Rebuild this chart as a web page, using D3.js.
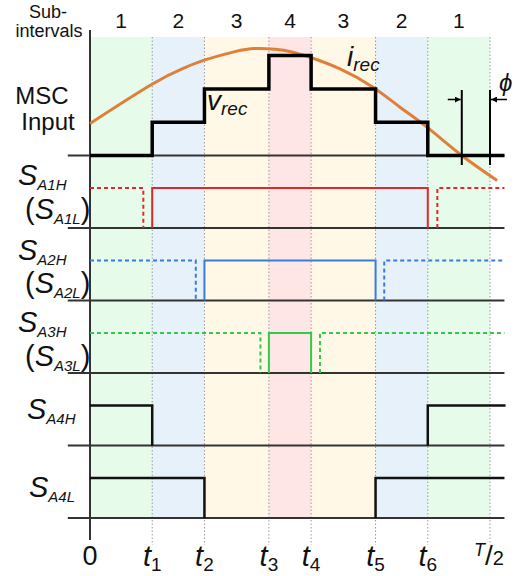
<!DOCTYPE html>
<html>
<head>
<meta charset="utf-8">
<script src="https://cdn.jsdelivr.net/npm/d3@7"></script>
<style>
  body { margin: 0; background: #fff; }
</style>
</head>
<body>
<svg id="chart" width="521" height="576"></svg>
<script>
// switching instants in electrical degrees over half a period
var tickNames = ['0', 't1', 't2', 't3', 't4', 't5', 't6', 'T/2'];
var tickAngles = [0, 28, 51.5, 80.5, 99.5, 128.5, 152, 180];

// sub-intervals between the ticks
var subIntervals = [1, 2, 3, 4, 3, 2, 1];
var intervalColors = ['#e7fbea', '#e6f1fa', '#fff8e7', '#fee6e6', '#fff8e7', '#e6f1fa', '#e7fbea'];

// staircase input voltage level in each sub-interval
var vrecLevels = [0, 1, 2, 3, 2, 1, 0];

// input current (same units as the voltage steps)
var irecAngles = [0, 27.9, 42.75, 51.75, 65.25, 74.25, 83.25, 90.9, 99, 112.5, 127.35, 139.5, 151.65, 167.3, 183.2];
var irecValues = [0.96, 2.14, 2.64, 2.87, 3.12, 3.21, 3.19, 3.11, 2.95, 2.6, 2.05, 1.45, 0.85, 0, -0.75];
var phiAngle = 167.3;

// gate signals: solid = high side switch on, dashed = complementary low side on
var gateRows = ['A1', 'A2', 'A3'];
var gateColors = ['#e0282c', '#3a7dd8', '#33c94a'];
var gateOn = [[28, 152], [51.5, 128.5], [80.5, 99.5]];
var gateLowOff = [[24, 156.3], [47.6, 132.4], [76.7, 103.5]];

// phase leg 4 switches
var s4hOn = [[0, 28], [152, 187]];
var s4lOn = [[0, 51.5], [128.5, 186.5]];

// no serif face resolves in the renderer, the narrower Arial-metric sans is closest
var FONT = '"Liberation Sans", Arimo, Arial, sans-serif';

var svg = d3.select('#chart')
            .style('font-family', FONT)
            .style('fill', '#111');

var x = d3.scaleLinear().domain([0, 180]).range([90, 490]);
var xStart = -10, xEnd = 186.5;

// one row for the input plot, then five gate rows
var rowNames = ['msc', 'A1', 'A2', 'A3', 'A4H', 'A4L'];
var row = d3.scalePoint().domain(rowNames).range([155.5, 518]);
var pulseHeight = 40;

// input plot vertical scale
var yMsc = d3.scaleLinear().domain([0, 1]).range([row('msc'), row('msc') - 33.3]);

var bgTop = 37, bgBottom = row('A4L');

// background sub-interval bands
svg.append('g')
   .selectAll('rect')
   .data(subIntervals)
   .enter()
   .append('rect')
   .attr('x', function(d, i) { return x(tickAngles[i]); })
   .attr('y', bgTop)
   .attr('width', function(d, i) { return x(tickAngles[i + 1]) - x(tickAngles[i]); })
   .attr('height', bgBottom - bgTop)
   .attr('fill', function(d, i) { return intervalColors[i]; });

// sub-interval numbers
svg.append('g')
   .selectAll('text')
   .data(subIntervals)
   .enter()
   .append('text')
   .attr('x', function(d, i) { return (x(tickAngles[i]) + x(tickAngles[i + 1])) / 2; })
   .attr('y', 28)
   .attr('text-anchor', 'middle')
   .style('font-size', '21px')
   .text(function(d) { return d; });

svg.append('text').attr('x', 48).attr('y', 18).attr('text-anchor', 'middle')
   .style('font-size', '18px').text('Sub-');
svg.append('text').attr('x', 49).attr('y', 37).attr('text-anchor', 'middle')
   .style('font-size', '18px').text('intervals');

// dotted time markers
svg.append('g')
   .selectAll('line')
   .data(tickAngles.slice(1))
   .enter()
   .append('line')
   .attr('x1', function(d) { return x(d); })
   .attr('x2', function(d) { return x(d); })
   .attr('y1', bgTop)
   .attr('y2', 545)
   .attr('stroke', '#9a9a9a')
   .attr('stroke-width', 1)
   .attr('stroke-dasharray', '1.5,2');

// row baselines
svg.append('g')
   .selectAll('line')
   .data(rowNames)
   .enter()
   .append('line')
   .attr('x1', x(xStart))
   .attr('x2', x(xEnd))
   .attr('y1', function(d) { return row(d); })
   .attr('y2', function(d) { return row(d); })
   .attr('stroke', '#333')
   .attr('stroke-width', 2);

// time axis
svg.append('line')
   .attr('x1', x(0)).attr('x2', x(0))
   .attr('y1', 30).attr('y2', 540)
   .attr('stroke', '#333')
   .attr('stroke-width', 2);

// input current
var irecLine = d3.line()
   .x(function(d, i) { return x(irecAngles[i]); })
   .y(function(d) { return yMsc(d); })
   .curve(d3.curveNatural);

svg.append('path')
   .datum(irecValues)
   .attr('d', irecLine)
   .attr('fill', 'none')
   .attr('stroke', '#e07f3a')
   .attr('stroke-width', 3);

// staircase voltage
var vrecPts = [];
vrecLevels.forEach(function(v, i) {
  vrecPts.push([tickAngles[i], v]);
  vrecPts.push([i == vrecLevels.length - 1 ? xEnd : tickAngles[i + 1], v]);
});
svg.append('path')
   .datum(vrecPts)
   .attr('d', d3.line()
                .x(function(d) { return x(d[0]); })
                .y(function(d) { return yMsc(d[1]); }))
   .attr('fill', 'none')
   .attr('stroke', '#000')
   .attr('stroke-width', 3.5);

// phase shift marker
var defs = svg.append('defs');
defs.append('marker')
    .attr('id', 'arrow')
    .attr('viewBox', '0 0 10 10')
    .attr('refX', 10).attr('refY', 5)
    .attr('markerWidth', 4).attr('markerHeight', 4)
    .attr('orient', 'auto')
    .append('path')
    .attr('d', 'M0,0L10,5L0,10z')
    .attr('fill', '#000');

[phiAngle, 180].forEach(function(a) {
  svg.append('line')
     .attr('x1', x(a)).attr('x2', x(a))
     .attr('y1', 90).attr('y2', 165)
     .attr('stroke', '#000').attr('stroke-width', 2);
});
svg.append('line')
   .attr('x1', x(phiAngle) - 14).attr('x2', x(phiAngle) - 1)
   .attr('y1', 99.5).attr('y2', 99.5)
   .attr('stroke', '#000').attr('stroke-width', 1.5)
   .attr('marker-end', 'url(#arrow)');
svg.append('line')
   .attr('x1', x(180) + 17).attr('x2', x(180) + 1)
   .attr('y1', 99.5).attr('y2', 99.5)
   .attr('stroke', '#000').attr('stroke-width', 1.5)
   .attr('marker-end', 'url(#arrow)');
svg.append('text')
   .attr('x', 499).attr('y', 91)
   .style('font-size', '24px').style('font-style', 'italic')
   .text('\u03d5');

// subscripted italic labels
function subLabel(px, py, main, sub, size, subSize, parens) {
  var t = svg.append('text').attr('x', px).attr('y', py)
             .style('font-size', size + 'px');
  if (parens) t.append('tspan').text('(');
  t.append('tspan').style('font-style', 'italic').text(main);
  t.append('tspan').style('font-style', 'italic').style('font-size', subSize + 'px')
   .attr('dy', size * 0.18).text(sub);
  if (parens) t.append('tspan').attr('dy', -size * 0.18).text(')');
  return t;
}

svg.append('text').attr('x', 42).attr('y', 104).attr('text-anchor', 'middle')
   .style('font-size', '24px').text('MSC');
svg.append('text').attr('x', 48).attr('y', 130).attr('text-anchor', 'middle')
   .style('font-size', '24px').text('Input');

subLabel(207, 110, 'v', 'rec', 28, 19, false);
subLabel(347, 66, 'i', 'rec', 28, 19, false);

// gate signals A1..A3
gateRows.forEach(function(r, k) {
  var base = row(r), high = base - pulseHeight;
  var on = gateOn[k], off = gateLowOff[k];

  svg.append('path')
     .attr('d', d3.line()([[x(on[0]), base], [x(on[0]), high], [x(on[1]), high], [x(on[1]), base]]))
     .attr('fill', 'none')
     .attr('stroke', gateColors[k])
     .attr('stroke-width', 2);

  [[[x(0), high], [x(off[0]), high], [x(off[0]), base]],
   [[x(off[1]), base], [x(off[1]), high], [x(xEnd), high]]].forEach(function(pts) {
    svg.append('path')
       .attr('d', d3.line()(pts))
       .attr('fill', 'none')
       .attr('stroke', gateColors[k])
       .attr('stroke-width', 2)
       .attr('stroke-dasharray', '4,3');
  });
});

// leg 4 switches
function drawPulses(rowName, pulses) {
  var base = row(rowName), high = base - pulseHeight;
  pulses.forEach(function(p) {
    var pts = [];
    if (p[0] > 0) pts.push([x(p[0]), base]);
    pts.push([x(p[0]), high], [x(p[1]), high]);
    if (p[1] < 180) pts.push([x(p[1]), base]);
    svg.append('path')
       .attr('d', d3.line()(pts))
       .attr('fill', 'none')
       .attr('stroke', '#111')
       .attr('stroke-width', 2.5);
  });
}
drawPulses('A4H', s4hOn);
drawPulses('A4L', s4lOn);

subLabel(18, 185, 'S', 'A1H', 29, 15, false);
subLabel(25, 219, 'S', 'A1L', 29, 15, true);
subLabel(18, 260, 'S', 'A2H', 29, 15, false);
subLabel(25, 293, 'S', 'A2L', 29, 15, true);
subLabel(18, 332, 'S', 'A3H', 29, 15, false);
subLabel(25, 366, 'S', 'A3L', 29, 15, true);
subLabel(27, 419, 'S', 'A4H', 29, 15, false);
subLabel(29, 497, 'S', 'A4L', 29, 15, false);

// time tick labels
var tickG = svg.append('g');
tickNames.forEach(function(name, i) {
  var tx = x(tickAngles[i]);
  if (name == '0') {
    tickG.append('text').attr('x', tx).attr('y', 565).attr('text-anchor', 'middle')
         .style('font-size', '27px').text('0');
  } else if (name == 'T/2') {
    var t = tickG.append('text').attr('x', tx - 1).attr('y', 565).attr('text-anchor', 'middle')
                 .style('font-size', '28px');
    t.append('tspan').style('font-style', 'italic').style('font-size', '18px')
     .attr('dy', -9).text('T');
    t.append('tspan').attr('dy', 9).text('/');
    t.append('tspan').style('font-size', '20px').text('2');
  } else {
    var t2 = tickG.append('text').attr('x', tx).attr('y', 566).attr('text-anchor', 'middle')
                  .style('font-size', '29px');
    t2.append('tspan').style('font-style', 'italic').text('t');
    t2.append('tspan').style('font-size', '19px').attr('dy', 5).text(name.slice(1));
  }
});
</script>
</body>
</html>
